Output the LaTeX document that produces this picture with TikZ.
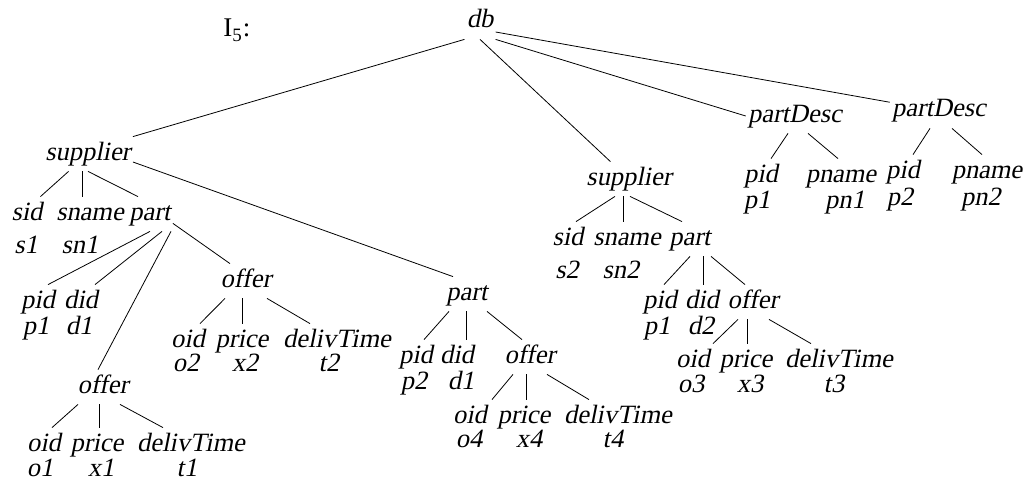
\documentclass[tikz,border=0pt]{standalone}
\usepackage{fontspec}
\setmainfont{Liberation Serif}[ItalicFont={Liberation Serif}, ItalicFeatures={FakeSlant=0.2}]
\tikzset{
  val/.style={font=\fontsize{13.2}{16}\selectfont\itshape, anchor=base,
    inner xsep=1pt, inner ysep=0pt},
  leaf/.style={val, text height=11.5pt},
  lbl/.style={leaf, text depth=5.5pt},
}

\begin{document}
\begin{tikzpicture}[x=0.5pt,y=-0.5pt]
    \useasboundingbox (0,0) rectangle (1026,481);
    \node[val, font=\fontsize{13.5}{16}\selectfont, anchor=base west] (title) at (221,37) {I\textsubscript{5}:};
    \node[lbl] (db) at (480,28) {db};

    % left supplier
    \node[lbl] (supA) at (88,160) {supplier};
    \node[leaf] (sidA) at (27,220) {sid}; \node[val] (sA) at (26,253) {s1};
    \node[leaf] (snameA) at (90,220) {sname}; \node[val] (snA) at (80,253) {sn1};
    \node[lbl] (partA) at (150,220) {part};
    \node[leaf] (pidA) at (38,308) {pid}; \node[val] (pA) at (36,334) {p1};
    \node[leaf] (didA) at (81,308) {did}; \node[val] (dA) at (79,334) {d1};
    \node[lbl] (offA) at (246,287) {offer};
    \node[leaf] (oidA) at (188,347) {oid}; \node[val] (oA) at (186,371) {o2};
    \node[leaf] (priceA) at (242,347) {price}; \node[val] (xA) at (245,371) {x2};
    \node[leaf] (delivA) at (337,347) {delivTime}; \node[val] (tA) at (329,371) {t2};
    \node[lbl] (offB) at (103,393) {offer};
    \node[leaf] (oidB) at (44,451) {oid}; \node[val] (oB) at (40,476) {o1};
    \node[leaf] (priceB) at (97,451) {price}; \node[val] (xB) at (101,476) {x1};
    \node[leaf] (delivB) at (191,451) {delivTime}; \node[val] (tB) at (187,476) {t1};
    \node[lbl] (partM) at (467,300) {part};
    \node[leaf] (pidM) at (416,363) {pid}; \node[val] (pM) at (414,389) {p2};
    \node[leaf] (didM) at (457,363) {did}; \node[val] (dM) at (461,389) {d1};
    \node[lbl] (offM) at (530,363) {offer};
    \node[leaf] (oidM) at (470,423) {oid}; \node[val] (oM) at (469,447) {o4};
    \node[leaf] (priceM) at (524,423) {price}; \node[val] (xM) at (529,447) {x4};
    \node[leaf] (delivM) at (618,423) {delivTime}; \node[val] (tM) at (613,447) {t4};

    % right supplier
    \node[lbl] (supB) at (629,185) {supplier};
    \node[leaf] (sidB) at (568,245) {sid}; \node[val] (sB) at (567,278) {s2};
    \node[leaf] (snameB) at (627,245) {sname}; \node[val] (snB) at (621,278) {sn2};
    \node[lbl] (partB) at (690,245) {part};
    \node[leaf] (pidB) at (660,308) {pid}; \node[val] (pB) at (657,334) {p1};
    \node[leaf] (didB) at (702,308) {did}; \node[val] (dB) at (701,334) {d2};
    \node[lbl] (offC) at (753,308) {offer};
    \node[leaf] (oidC) at (693,367) {oid}; \node[val] (oC) at (691,392) {o3};
    \node[leaf] (priceC) at (746,367) {price}; \node[val] (xC) at (750,392) {x3};
    \node[leaf] (delivC) at (839,367) {delivTime}; \node[val] (tC) at (834,392) {t3};

    % part descriptions
    \node[lbl] (pd1) at (795,122) {partDesc};
    \node[leaf] (pidD1) at (761,182) {pid}; \node[val] (pD1) at (757,208) {p1};
    \node[leaf] (pnameD1) at (841,182) {pname}; \node[val] (pnD1) at (845,208) {pn1};
    \node[lbl] (pd2) at (939,117) {partDesc};
    \node[leaf] (pidD2) at (903,178) {pid}; \node[val] (pD2) at (900,205) {p2};
    \node[leaf] (pnameD2) at (987,178) {pname}; \node[val] (pnD2) at (981,205) {pn2};

    \draw (db.south west) -- (supA.north east);
    \draw (db.south) -- (supB);
    \draw (db.south east) -- (pd1.west);
    \draw ([yshift=-5pt]db.east) -- (pd2);

    \draw (supA) -- (sidA);
    \draw ([xshift=-3pt]supA.south) -- ([xshift=-4pt]snameA.north);
    \draw (supA.south) -- ([xshift=-6pt]partA.north);
    \draw ([yshift=-4pt]supA.east) -- ([xshift=-7pt]partM.north);

    \draw (partA.south) -- ([xshift=5pt]pidA.north);
    \draw ([xshift=6pt]partA.south) -- ([xshift=7pt]didA.north);
    \draw ([xshift=10.5pt]partA.south) -- ([xshift=-2.5pt]offB.north);
    \draw ([yshift=4pt]partA.south east) -- ([xshift=-8pt]offA.north);

    \draw ([xshift=-10.5pt]offA.south) -- ([xshift=6pt]oidA.north);
    \draw ([xshift=-2pt]offA.south) -- (priceA.north);
    \draw ([xshift=10.5pt]offA.south) -- ([xshift=-13.5pt]delivA.north);

    \draw ([xshift=-12.5pt]offB.south) -- ([xshift=4pt]oidB.north);
    \draw ([xshift=-2pt]offB.south) -- ([xshift=1pt]priceB.north);
    \draw ([xshift=8.5pt]offB.south) -- ([xshift=-14pt]delivB.north);

    \draw ([xshift=-9pt]partM.south) -- ([xshift=4pt]pidM.north);
    \draw ([xshift=-0.5pt]partM.south) -- ([xshift=4.5pt]didM.north);
    \draw ([xshift=10pt]partM.south) -- ([xshift=-4pt]offM.north);

    \draw ([xshift=-8.5pt]offM.south) -- ([xshift=11pt]oidM.north);
    \draw ([xshift=-2pt]offM.south) -- ([xshift=1pt]priceM.north);
    \draw ([xshift=8.5pt]offM.south) -- ([xshift=-14.5pt]delivM.north);

    \draw ([xshift=-7pt]supB.south) -- ([xshift=4pt]sidB.north);
    \draw ([xshift=-3pt]supB.south) -- ([xshift=-2pt]snameB.north);
    \draw ([xshift=0.5pt]supB.south) -- ([xshift=-4pt]partB.north);

    \draw (partB.south) -- ([xshift=2pt]pidB.north);
    \draw ([xshift=6.5pt]partB.south) -- ([xshift=0.5pt]didB.north);
    \draw ([xshift=10.5pt]partB.south) -- ([xshift=-4pt]offC.north);

    \draw ([xshift=-7.5pt]offC.south) -- ([xshift=10pt]oidC.north);
    \draw ([xshift=-3pt]offC.south) -- ([xshift=0.5pt]priceC.north);
    \draw ([xshift=8pt]offC.south) -- ([xshift=-14pt]delivC.north);

    \draw ([xshift=-3.5pt]pd1.south) -- ([xshift=5pt]pidD1.north);
    \draw ([xshift=6.5pt]pd1.south) -- ([xshift=-1.5pt]pnameD1.north);
    \draw ([xshift=-4.5pt]pd2.south) -- ([xshift=5pt]pidD2.north);
    \draw ([xshift=6.5pt]pd2.south) -- ([xshift=-2.5pt]pnameD2.north);
\end{tikzpicture}
\end{document}
